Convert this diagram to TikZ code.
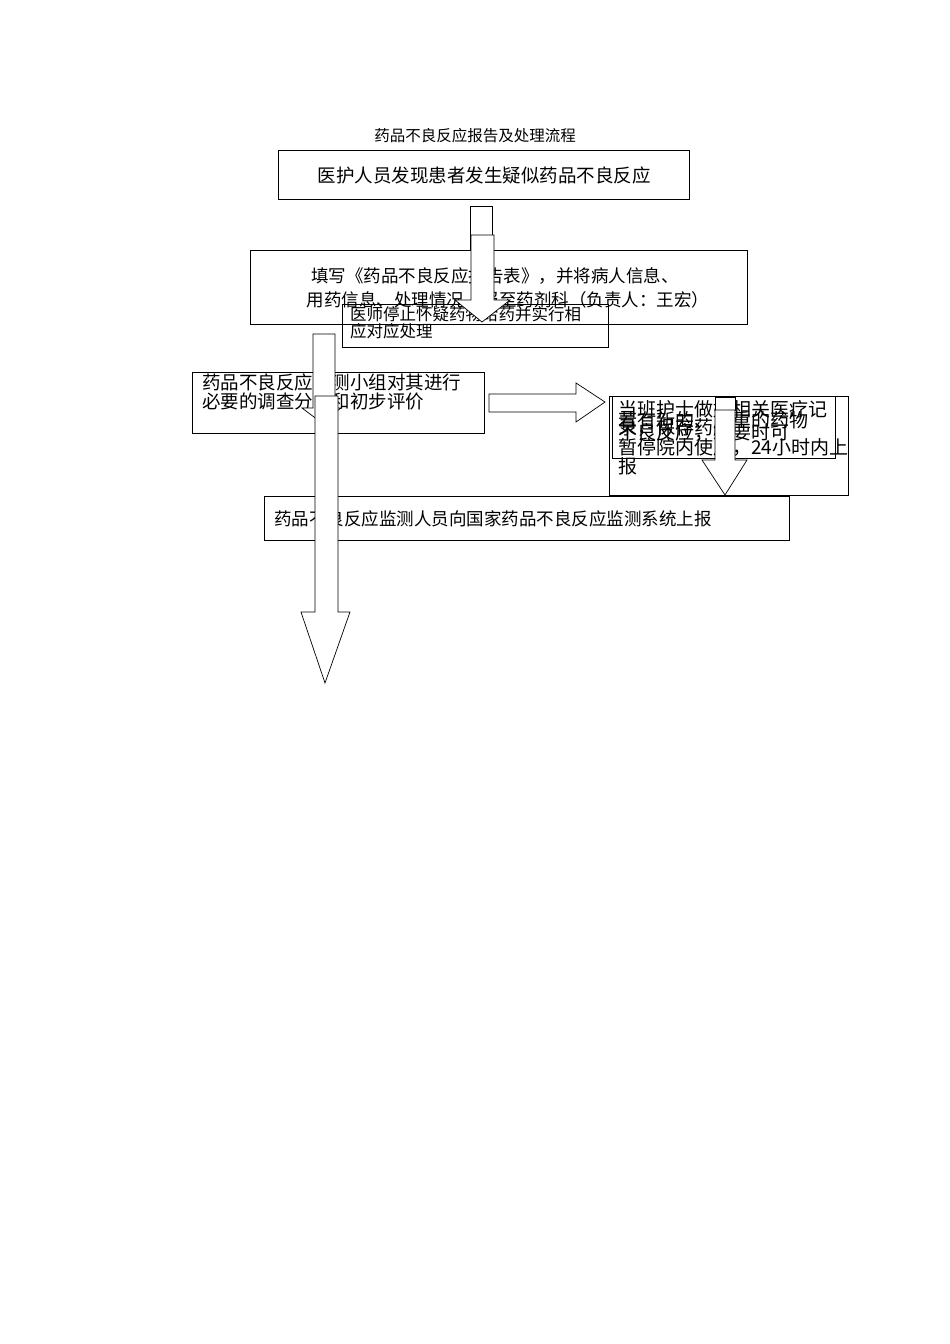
\documentclass[tikz,border=0pt]{standalone}
\usepackage{fontspec}
\setmainfont{Noto Sans CJK SC}
\begin{document}
\begin{tikzpicture}[x=1pt,y=-1pt,
  bx/.style={draw,line width=0.6pt},
  blk/.style={draw,fill=white,line width=0.7pt,line join=miter},
  txt/.style={anchor=west,inner sep=0pt}]
\useasboundingbox (0,0) rectangle (950,1344);
\node[inner sep=0pt,font=\fontsize{15.5}{16}\selectfont] (title) at (475,136) {药品不良反应报告及处理流程};
% box1
\draw[bx] (278,150) rectangle (689,199);
\node[inner sep=0pt,font=\fontsize{18.5}{19}\selectfont] (t1) at (484,175) {医护人员发现患者发生疑似药品不良反应};
\draw[blk] (470,206) rectangle (492,250);
% box2
\draw[bx] (250,250) rectangle (747,324);
\node[inner sep=0pt,font=\fontsize{17.5}{18}\selectfont] (t2a) at (495,276) {填写《药品不良反应报告表》，并将病人信息、};
\node[inner sep=0pt,font=\fontsize{17.5}{18}\selectfont] (t2b) at (508,300) {用药信息、处理情况上报至药剂科（负责人：王宏）};
% doctor box
\draw[bx] (342,304) rectangle (608,347);
\node[txt,font=\fontsize{16.5}{17}\selectfont] (t3a) at (350,314) {医师停止怀疑药物给药并实行相};
\node[txt,font=\fontsize{16.5}{17}\selectfont] (t3b) at (350,331) {应对应处理};
\draw[blk] (471,235)--(494,235)--(494,300)--(510,300)--(482,322)--(455,300)--(471,300)--cycle;
% box3
\draw[bx] (192,372) rectangle (484,433);
\node[txt,font=\fontsize{18.5}{19}\selectfont] (t4a) at (202,382) {药品不良反应监测小组对其进行};
\node[txt,font=\fontsize{18.5}{19}\selectfont] (t4b) at (202,402) {必要的调查分析和初步评价};
\draw[blk] (313,334)--(335,334)--(335,408)--(341,408)--(322,423)--(302,408)--(313,408)--cycle;
% right arrow
\draw[blk] (489,394)--(576,394)--(576,383)--(605,402)--(576,422)--(576,412)--(489,412)--cycle;
% right boxes
\draw[bx] (609,396) rectangle (848,495);
\draw[bx] (612,396) rectangle (835,458);
\node[txt,font=\fontsize{19}{20}\selectfont] (t5a) at (618,409) {当班护士做好相关医疗记};
\node[txt,font=\fontsize{19}{20}\selectfont] (t5b) at (618,428) {录，保存药品};
\node[txt,font=\fontsize{19}{20}\selectfont] (t6a) at (618,420) {若有新的、严重的药物};
\node[txt,font=\fontsize{19}{20}\selectfont] (t6b) at (618,432) {不良反应，必要时可};
\node[txt,font=\fontsize{19}{20}\selectfont] (t6c) at (618,447) {暂停院内使用，24小时内上};
\node[txt,font=\fontsize{19}{20}\selectfont] (t6d) at (618,466) {报};
\draw[blk] (715,397) rectangle (735,410);
\draw[blk] (715,410)--(735,410)--(735,460)--(747,460)--(725,495)--(702,460)--(715,460)--cycle;
% bottom box
\draw[bx] (264,496) rectangle (789,540);
\node[txt,font=\fontsize{17.5}{18}\selectfont] (t7) at (274,519) {药品不良反应监测人员向国家药品不良反应监测系统上报};
% long arrow
\draw[blk] (315,396)--(338,396)--(338,612)--(350,612)--(325,683)--(301,612)--(315,612)--cycle;
\end{tikzpicture}
\end{document}
